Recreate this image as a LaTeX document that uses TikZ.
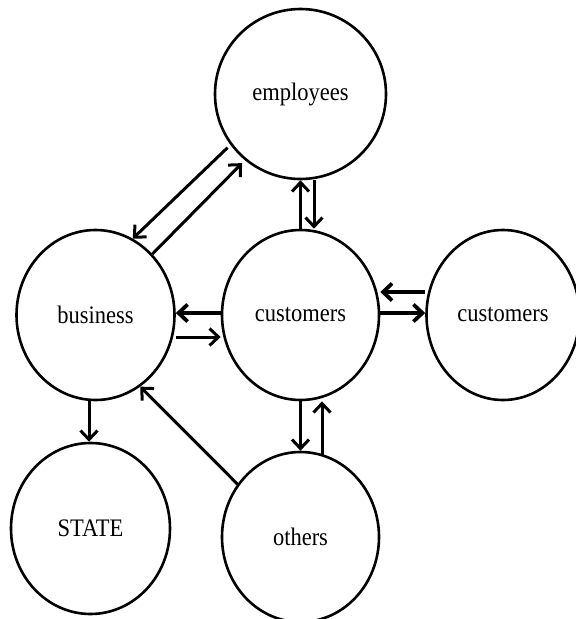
\documentclass[tikz,border=0pt]{standalone}
\usepackage{fontspec}
\setmainfont{Liberation Serif}
\usetikzlibrary{shapes.geometric,arrows.meta}
\newcommand{\stretchtxt}[1]{\scalebox{1}[1.12]{#1}}
\begin{document}
\begin{tikzpicture}[x=1pt,y=-1pt,
  ent/.style={draw, ellipse, line width=2.6pt, inner sep=0pt, font=\fontsize{22.5}{24}\selectfont},
  flow/.style={line width=3pt, -{Straight Barb[length=9pt,width=17pt]}},
  thickflow/.style={flow, line width=3.8pt}]
\useasboundingbox (0,0) rectangle (576,619);
\node[ent, minimum width=171pt, minimum height=170pt] (emp) at (300.5,94) {\stretchtxt{employees}};
\node[ent, minimum width=158pt, minimum height=170pt] (bus) at (95.5,315) {\stretchtxt{business}};
\node[ent, minimum width=157pt, minimum height=170pt] (cust) at (300.5,315) {\stretchtxt{customers}};
\node[ent, minimum width=153pt, minimum height=170pt] (cusr) at (503,315) {\stretchtxt{customers}};
\node[ent, minimum width=159pt, minimum height=171pt] (state) at (90.5,528.5) {\stretchtxt{STATE}};
\node[ent, minimum width=157pt, minimum height=170pt] (oth) at (300.5,537) {\stretchtxt{others}};
% employees <-> business
\draw[flow, shorten <=4pt] (emp.216.4) -- (bus.64.9);
\draw[flow, shorten >=4pt] (bus.47.8) -- (emp.230.2);
% employees <-> customers
\draw[flow] (cust.north) -- (emp.south);
\draw[flow] ([xshift=13.5pt]emp.south) -- ([xshift=13.5pt]cust.north);
% business <-> customers
\draw[thickflow] ([yshift=2pt]cust.west) -- ([yshift=2pt]bus.east);
\draw[flow] ([yshift=-22pt]bus.east) -- ([yshift=-22pt]cust.west);
% customers <-> customers (right)
\draw[thickflow] ([yshift=23pt]cusr.west) -- ([yshift=23pt]cust.east);
\draw[thickflow] ([yshift=2pt]cust.east) -- ([yshift=2pt]cusr.west);
% business -> STATE
\draw[flow] ([xshift=-6.5pt]bus.south) -- ([xshift=-1.5pt]state.north);
% others -> business
\draw[flow] (oth.140) -- (bus.302.3);
% customers <-> others
\draw[flow] (cust.south) -- (oth.north);
\draw[flow, shorten <=-4pt] ([xshift=21.5pt]oth.north) -- ([xshift=21.5pt]cust.south);
\end{tikzpicture}
\end{document}
